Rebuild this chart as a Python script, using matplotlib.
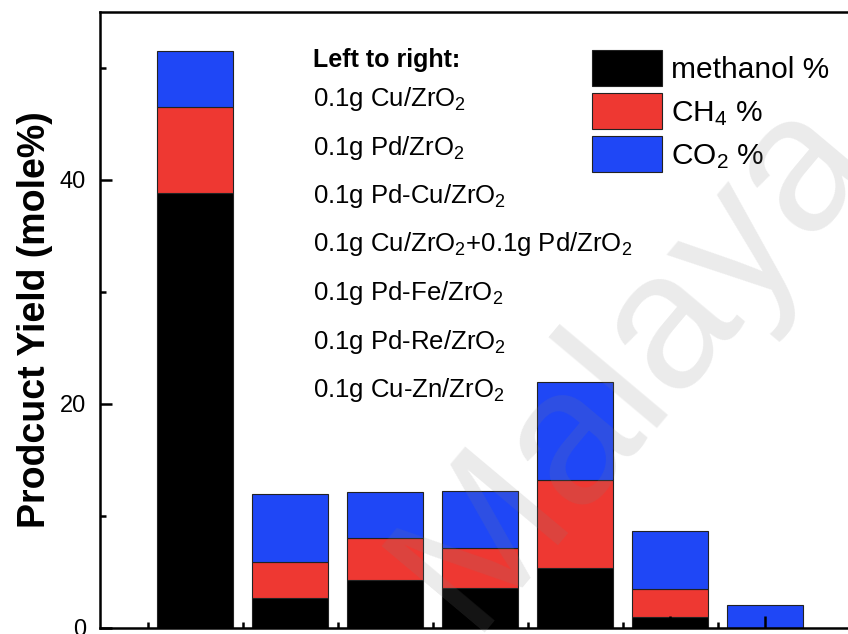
import numpy as np
import matplotlib
matplotlib.use('Agg')
import matplotlib.pyplot as plt
from matplotlib.ticker import MultipleLocator, FixedLocator
from matplotlib.patches import Patch

plt.rcParams['font.family'] = 'Liberation Sans'
plt.rcParams['mathtext.fontset'] = 'custom'
plt.rcParams['mathtext.rm'] = 'Liberation Sans'
plt.rcParams['mathtext.it'] = 'Liberation Sans:italic'
plt.rcParams['mathtext.bf'] = 'Liberation Sans:bold'

# catalysts, left to right
catalysts = [r'0.1g Cu/ZrO$_2$', r'0.1g Pd/ZrO$_2$', r'0.1g Pd-Cu/ZrO$_2$',
             r'0.1g Cu/ZrO$_2$+0.1g Pd/ZrO$_2$', r'0.1g Pd-Fe/ZrO$_2$',
             r'0.1g Pd-Re/ZrO$_2$', r'0.1g Cu-Zn/ZrO$_2$']
methanol = [38.8, 2.7, 4.3, 3.6, 5.4, 1.0, 0.0]
ch4 = [7.7, 3.2, 3.7, 3.5, 7.8, 2.5, 0.0]
co2 = [5.0, 6.1, 4.1, 5.1, 8.8, 5.2, 2.05]
series_labels = ['methanol %', r'CH$_4$ %', r'CO$_2$ %']
series_colors = ['#000000', '#ee3832', '#1f47f6']

W, H = 848, 634
fig = plt.figure(figsize=(W / 100, H / 100), dpi=100)
ax = fig.add_axes([100 / W, 6 / H, 760 / W, 616 / H])

x = np.arange(1, len(catalysts) + 1)
bar_width = 0.8
m = np.array(methanol)
c = np.array(ch4)
d = np.array(co2)
ax.bar(x, m, bar_width, color=series_colors[0], edgecolor='#222222', linewidth=0.8)
ax.bar(x, c, bar_width, bottom=m, color=series_colors[1], edgecolor='#222222', linewidth=0.8)
ax.bar(x, d, bar_width, bottom=m + c, color=series_colors[2], edgecolor='#222222', linewidth=0.8)

ax.set_xlim(0, 8)
ax.set_ylim(0, 55)
ax.yaxis.set_major_locator(MultipleLocator(20))
ax.yaxis.set_minor_locator(MultipleLocator(10))
ax.xaxis.set_major_locator(FixedLocator(x))
ax.xaxis.set_minor_locator(FixedLocator(x - 0.5))
ax.tick_params(which='both', direction='in', width=1.8, labelbottom=False)
ax.tick_params(which='major', length=8.5)
ax.tick_params(which='minor', length=4.5)
ax.tick_params(axis='y', labelsize=17, pad=10)
for s in ax.spines.values():
    s.set_linewidth(1.8)

ax.set_ylabel('Prodcuct Yield (mole%)', fontsize=27, fontweight='bold', labelpad=5)

# left-to-right key
fig.text(313 / W, 1 - 67 / H, 'Left to right:', fontsize=18, fontweight='bold', va='baseline')
for i, name in enumerate(catalysts):
    fig.text(313 / W, 1 - (106 + 48.5 * i) / H, name, fontsize=18.5, va='baseline')

handles = [Patch(facecolor=col, edgecolor='#222222', linewidth=0.8) for col in series_colors]
ax.legend(handles, series_labels, loc='upper left', bbox_to_anchor=(592 / W, 1 - 50 / H),
          bbox_transform=fig.transFigure, frameon=False, fontsize=21.5,
          handlelength=2.35, handleheight=1.47, handletextpad=0.3,
          labelspacing=0.24, borderpad=0, borderaxespad=0)

# watermark
fig.text(632 / W, 1 - 360 / H, 'Malaya', fontsize=140, rotation=50, color='#808080',
         alpha=0.16, ha='center', va='center', zorder=10)

fig.savefig('out.png', dpi=100)
